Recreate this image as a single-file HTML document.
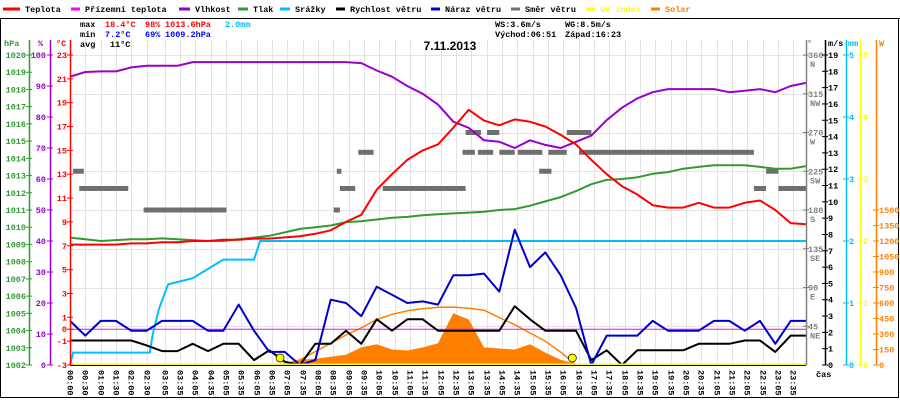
<!DOCTYPE html>
<html><head><meta charset="utf-8">
<style>
html,body{margin:0;padding:0;background:#fff;}
svg{display:block;font-family:"Liberation Mono",monospace;font-size:8.5px;}
</style></head>
<body>
<svg id="chart" width="900" height="400" viewBox="0 0 900 400" xmlns="http://www.w3.org/2000/svg">
  <rect x="0" y="0" width="900" height="400" fill="#fff"/>
  <g id="grid"></g>
  <g id="series"></g>
  <g id="axes"></g>
  <g id="legend"></g>
  <g font-weight="bold">
    <text x="80" y="27" fill="#000">max</text>
    <text x="105" y="27" fill="#f00">18.4°C</text>
    <text x="145" y="27" fill="#f00">98%</text>
    <text x="165" y="27" fill="#f00">1013.6hPa</text>
    <text x="225" y="27" fill="#00bfff">2.0mm</text>
    <text x="80" y="37" fill="#000">min</text>
    <text x="105" y="37" fill="#00f">7.2°C</text>
    <text x="145" y="37" fill="#00f">69%</text>
    <text x="165" y="37" fill="#00f">1009.2hPa</text>
    <text x="80" y="47" fill="#000">avg</text>
    <text x="110" y="47" fill="#000">11°C</text>
    <text x="495" y="27" fill="#000">WS:3.6m/s</text>
    <text x="565" y="27" fill="#000">WG:8.5m/s</text>
    <text x="495" y="37" fill="#000">Východ:06:51</text>
    <text x="565" y="37" fill="#000">Západ:16:23</text>
  </g>
  <text x="450" y="50" text-anchor="middle" font-family="Liberation Sans, sans-serif" font-weight="bold" font-size="12" fill="#000">7.11.2013</text>
</svg>
<script>
// ---- data (half-hour samples, t = 0..24 h) ----
const hours = [0,0.5,1,1.5,2,2.5,3,3.5,4,4.5,5,5.5,6,6.5,7,7.5,8,8.5,9,9.5,10,10.5,11,11.5,12,12.5,13,13.5,14,14.5,15,15.5,16,16.5,17,17.5,18,18.5,19,19.5,20,20.5,21,21.5,22,22.5,23,23.5,24];
const temperature = [7.1,7.1,7.1,7.1,7.2,7.2,7.3,7.3,7.4,7.4,7.5,7.5,7.6,7.6,7.7,7.8,8.0,8.3,9.0,9.6,11.7,13.0,14.2,15.0,15.5,16.9,18.4,17.5,17.1,17.6,17.4,17.0,16.3,15.5,14.2,13.0,12.0,11.3,10.4,10.2,10.2,10.6,10.2,10.2,10.6,10.8,10.0,8.9,8.8];
const humidity = [93,94.5,94.7,94.7,96,96.5,96.5,96.5,97.7,97.7,97.7,97.7,97.7,97.7,97.7,97.7,97.7,97.7,97.7,97.4,95,93,90,87.5,84,78.5,76.5,72.5,72,70,72.5,71,70,72,74,79,83,86,88,89,89,89,89,88,88.5,89,88,90,91];
const pressure = [1009.4,1009.3,1009.2,1009.25,1009.3,1009.3,1009.35,1009.3,1009.25,1009.2,1009.2,1009.3,1009.4,1009.5,1009.7,1009.9,1010.0,1010.1,1010.3,1010.35,1010.45,1010.55,1010.6,1010.7,1010.75,1010.8,1010.85,1010.9,1011.0,1011.05,1011.25,1011.5,1011.75,1012.1,1012.5,1012.75,1012.8,1012.9,1013.1,1013.2,1013.4,1013.5,1013.6,1013.6,1013.6,1013.5,1013.4,1013.4,1013.55];
const windSpeed = [1.5,1.5,1.5,1.5,1.5,1.2,0.85,0.85,1.3,0.85,1.3,1.3,0.3,0.9,0.2,0,1.3,1.3,2.1,1.3,2.8,2.1,2.8,2.8,2.1,2.1,2.1,2.1,2.1,3.6,2.8,2.1,2.1,2.1,0.3,0.9,0,0.9,0.9,0.9,0.9,1.3,1.3,1.3,1.5,1.5,0.8,1.8,1.8];
const windGust = [2.7,1.8,2.7,2.7,2.1,2.1,2.7,2.7,2.7,2.1,2.1,3.7,2.1,0.8,0.8,0,0.3,4.0,3.8,3.0,4.8,4.3,3.8,3.9,3.7,5.5,5.5,5.6,4.5,8.3,6.0,6.9,5.5,3.5,0,1.8,1.8,1.8,2.7,2.1,2.1,2.1,2.7,2.7,2.1,2.7,1.3,2.7,2.7];
const solar = [0,0,0,0,0,0,0,0,0,0,0,0,0,0,20,50,60,80,100,170,200,150,140,170,210,500,440,170,160,150,200,120,50,10,0,0,0,0,0,0,0,0,0,0,0,0,0,0,0];
const solarClear = [0,0,0,0,0,0,0,0,0,0,0,0,0,0,5,50,130,210,290,360,440,490,525,545,558,560,550,530,460,390,310,230,125,0,0,0,0,0,0,0,0,0,0,0,0,0,0,0,0];
const rainTimes = [0,0.1,2.6,2.7,2.9,3.2,4.0,5.0,6.0,6.2,24];
const rainMm = [0,0.2,0.2,0.5,0.9,1.3,1.4,1.7,1.7,2.0,2.0];
const dirStart = [0.1,0.3,2.4,8.6,8.8,8.7,9.4,10.2,12.8,12.9,13.3,13.6,14.0,14.6,15.0,15.3,15.6,16.2,16.6,22.3,22.7,23.1];
const dirEnd   = [0.45,1.9,5.1,8.8,9.3,8.85,9.9,12.9,13.2,13.4,13.8,14.0,14.5,15.0,15.4,15.7,16.2,17.0,22.3,22.7,23.1,24];
const dirDeg   = [225,205,180,180,205,225,247,205,247,270,247,270,247,247,247,225,247,270,247,205,225,205];
const timeLabels = ["00:00","00:30","01:00","01:30","02:00","02:30","03:05","03:35","04:05","04:35","05:05","05:35","06:05","06:35","07:05","07:35","08:05","08:35","09:05","09:35","10:05","10:35","11:05","11:35","12:05","12:35","13:05","13:35","14:05","14:35","15:05","15:35","16:05","16:35","17:05","17:35","18:05","18:35","19:05","19:35","20:05","20:35","21:05","21:35","22:05","22:35","23:05","23:35"];
const sunTimes = [6.85,16.38];

// ---- scales ----
const X0=70, X1=806, Y0=55, YB=365;
const xT = t => X0 + t*(X1-X0)/24;
const yTemp = v => Y0 + (23-v)*(YB-Y0)/26;
const yHum = v => Y0 + (100-v)*(YB-Y0)/100;
const yPres = v => Y0 + (1020-v)*(YB-Y0)/18;
const yMs = v => YB - v*(YB-Y0)/19;
const yMm = v => YB - v*(YB-Y0)/5;
const yW = v => YB - v*(YB-210)/1500;
const yDir = v => YB - v*(YB-Y0)/360;
const labelTime = s => { const p=s.split(':'); return +p[0] + (+p[1])/60; };

const NS='http://www.w3.org/2000/svg';
function mk(tag, attrs, parent){ const e=document.createElementNS(NS,tag); for(const k in attrs) e.setAttribute(k,attrs[k]); parent.appendChild(e); return e; }
const grid=document.getElementById('grid'), series=document.getElementById('series'), axes=document.getElementById('axes'), legend=document.getElementById('legend');

// frame
let fr=mk('line',{x1:0,y1:18.5,x2:900,y2:18.5,stroke:'#000','stroke-width':1},grid);


fr=mk('rect',{x:0.5,y:18.5,width:898,height:379,fill:'none',stroke:'#000','stroke-width':1},grid);



// grid
timeLabels.forEach((s)=>{
  const x=Math.round(xT(labelTime(s)))+0.5;
  const g=mk('line',{x1:x,y1:40,x2:x,y2:YB,stroke:'#e4e2e2','stroke-width':1},grid);
  
  
  const t=mk('text',{transform:`translate(${x-3},370) rotate(90)`,fill:'#000','font-weight':'bold'},axes);
  t.textContent=s;
  
  
});
for(let d=0; d<=360; d+=45){
  const y=Math.round(yDir(d))+0.5;
  const g=mk('line',{x1:X0,y1:y,x2:X1,y2:y,stroke:'#e4e2e2','stroke-width':1},grid);
  
  
}

function poly(vals, yf, color, name, w){
  const pts=vals.map((v,i)=>xT(hours[i]).toFixed(1)+','+yf(v).toFixed(1)).join(' ');
  const p=mk('polyline',{points:pts,fill:'none',stroke:color,'stroke-width':w||2,'stroke-linejoin':'round'},series);
  
  
  return p;
}

// solar fill
{
  let pts=xT(0)+','+YB+' '+solar.map((v,i)=>xT(hours[i]).toFixed(1)+','+yW(v).toFixed(1)).join(' ')+' '+xT(24)+','+YB;
  const p=mk('polygon',{points:pts,fill:'#ff8000',stroke:'none'},series);
  
  
}
poly(solarClear, yW, '#ff8000', 'solar-clear-sky-line', 1.5);

// direction bars
dirDeg.forEach((d,i)=>{
  const x1=xT(dirStart[i]), x2=xT(dirEnd[i]);
  const r=mk('rect',{x:x1,y:yDir(d)-2.5,width:Math.max(3,x2-x1),height:5,fill:'#6f6f6f'},series);
  
  
});

// ground temperature (flat 0) & zero line
{
  const l=mk('line',{x1:X0,y1:yTemp(0),x2:X1,y2:yTemp(0),stroke:'#ff00ff','stroke-width':1},series);
  
  
}
// rain
{
  let pts=[];
  rainTimes.forEach((t,i)=>{ pts.push(xT(t).toFixed(1)+','+yMm(rainMm[i]).toFixed(1)); });
  const p=mk('polyline',{points:pts.join(' '),fill:'none',stroke:'#00bfff','stroke-width':2},series);
  
  
}
poly(pressure, yPres, '#339933', 'pressure-line', 2);
poly(humidity, yHum, '#9900cc', 'humidity-line', 2);
poly(temperature, yTemp, '#ff0000', 'temperature-line', 2);
poly(windSpeed, yMs, '#000000', 'wind-speed-line', 2);
poly(windGust, yMs, '#0000cc', 'wind-gust-line', 2);

// UV baseline
{
  const l=mk('line',{x1:X0,y1:YB-0.5,x2:X1,y2:YB-0.5,stroke:'#ffff00','stroke-width':2},series);
  
  
}
sunTimes.forEach(t=>{
  const c=mk('circle',{cx:xT(t),cy:358,r:4,fill:'#ffff00',stroke:'#000','stroke-width':0.7},series);
  
  
});
{
  const l=mk('line',{x1:X0,y1:YB+0.5,x2:X1,y2:YB+0.5,stroke:'#000','stroke-width':1},series);
  
  
}

// axes
function vaxis(x, color, name, y1){
  const l=mk('line',{x1:x+0.5,y1:y1||40,x2:x+0.5,y2:YB,stroke:color,'stroke-width':1.5},axes);
  
  
}
function tick(x,y,label,color,anchor,name,tx){
  const t=mk('line',{x1:x-3,y1:y,x2:x+3,y2:y,stroke:color,'stroke-width':1},axes);
  
  
  const tt=mk('text',{x:tx,y:y+3,fill:color,'text-anchor':anchor,'font-weight':'bold'},axes);
  tt.textContent=label;
  
  
}
vaxis(29,'#339933','pressure-axis');
vaxis(50,'#9900cc','humidity-axis');
vaxis(70,'#ff0000','temperature-axis');
vaxis(806,'#808080','direction-axis');
vaxis(825,'#000000','wind-speed-axis');
vaxis(846,'#00bfff','rain-axis');
vaxis(860,'#ffff00','uv-axis');
vaxis(876,'#ff8000','solar-axis');
for(let p=1002;p<=1020;p++) tick(29,yPres(p),String(p),'#339933','end','pressure',26);
for(let h=0;h<=100;h+=10) tick(50,yHum(h),String(h),'#9900cc','end','humidity',46);
[23,21,19,17,15,13,11,9,7,5,3,1,0,-1,-3].forEach(v=>tick(70,yTemp(v),String(v),'#ff0000','end','temperature',67));
const dirNames={360:'N',315:'NW',270:'W',225:'SW',180:'S',135:'SE',90:'E',45:'NE'};
for(let d=45; d<=360; d+=45){
  tick(806,yDir(d),String(d),'#808080','start','direction',808);
  const t=mk('text',{x:810,y:yDir(d)+12,fill:'#808080','font-weight':'bold'},axes);
  t.textContent=dirNames[d];
  
  
}
for(let v=0;v<=19;v++) tick(825,yMs(v),String(v),'#000','start','wind-speed',828);
for(let v=0;v<=5;v++){ tick(846,yMm(v),String(v),'#00bfff','start','rain',849); tick(860,yMm(v),String(v),'#ffff00','start','uv',863); }
for(let v=0;v<=1500;v+=150) tick(876,yW(v),String(v),'#ff8000','start','solar',879);
[['hPa',4,'#339933'],['%',38,'#9900cc'],['°C',56,'#ff0000'],['°',807,'#808080'],['m/s',828,'#000'],['mm',848,'#00bfff'],['W',879,'#ff8000']].forEach(a=>{
  const t=mk('text',{x:a[1],y:46,fill:a[2],'font-weight':'bold'},axes);
  t.textContent=a[0];
  
  
});
{
  const t=mk('text',{x:816,y:377,fill:'#000','font-weight':'bold'},axes);
  t.textContent='čas';
  
  
}

// legend
[['Teplota',2,25,'#ff0000','#000'],['Přízemní teplota',70,85,'#ff00ff','#000'],['Vlhkost',178,195,'#9900cc','#000'],['Tlak',237,253,'#339933','#000'],['Srážky',279,295,'#00bfff','#000'],['Rychlost větru',335,350,'#000','#000'],['Náraz větru',430,445,'#0000cc','#000'],['Směr větru',510,525,'#6f6f6f','#000'],['UV index',585,600,'#ffff00','#ffff00'],['Solar',650,665,'#ff8000','#ff8000']].forEach(a=>{
  const l=mk('line',{x1:a[1]+1,y1:9,x2:a[2]-5,y2:9,stroke:a[3],'stroke-width':3},legend);
  
  
  const t=mk('text',{x:a[2],y:12,fill:a[4],'font-weight':'bold'},legend);
  t.textContent=a[0];
  
  
});
</script>
</body></html>
